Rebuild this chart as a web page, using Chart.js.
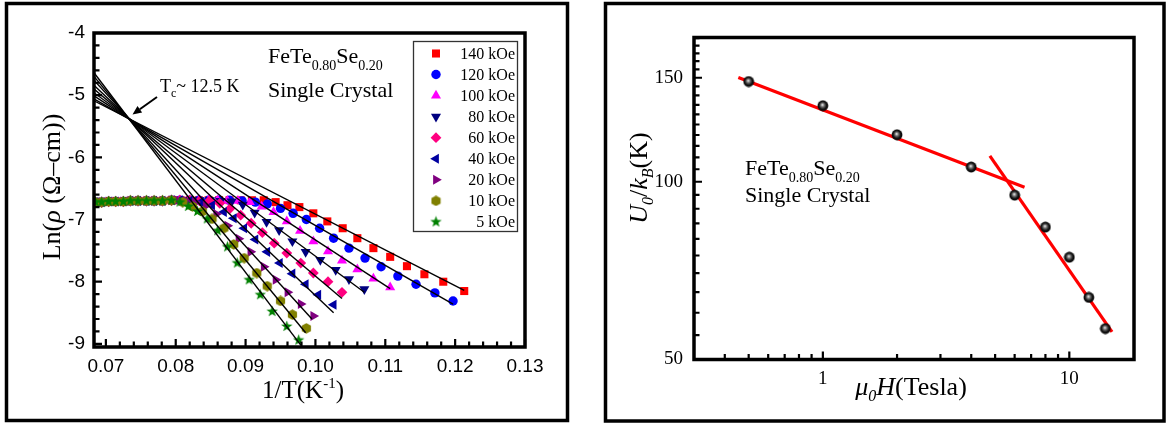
<!DOCTYPE html>
<html>
<head>
<meta charset="utf-8">
<title>FeTe0.80Se0.20 single crystal</title>
<script src="https://cdn.jsdelivr.net/npm/chart.js@4.4.1/dist/chart.umd.min.js"></script>
<style>
  html, body { margin: 0; padding: 0; background: #fff; }
  body { width: 1171px; height: 428px; position: relative; overflow: hidden; }
  canvas { position: absolute; top: 0; }
  #arrhenius { left: 0; }
  #barrier { left: 585px; }
</style>
</head>
<body>
<canvas id="arrhenius" width="575" height="428"></canvas>
<canvas id="barrier" width="586" height="428"></canvas>
<script>
// ---- Arrhenius plot: Ln(rho) vs 1/T for each applied field ----
const fieldLabels = ['140 kOe', '120 kOe', '100 kOe', '80 kOe', '60 kOe', '40 kOe', '20 kOe', '10 kOe', '5 kOe'];

// normal-state plateau, common to all fields
const plateauInvT = [0.0685, 0.0694, 0.0704, 0.0714, 0.0725, 0.0735, 0.0746, 0.0758, 0.0769, 0.0781, 0.0794];
const plateauLnRho = [-6.72, -6.72, -6.71, -6.71, -6.71, -6.70, -6.70, -6.70, -6.70, -6.70, -6.69];

const invT140 = [0.0806, 0.0820, 0.0833, 0.0847, 0.0862, 0.0877, 0.0893, 0.0909, 0.0926, 0.0943, 0.0960, 0.0977, 0.0997, 0.1017, 0.1039, 0.1060, 0.1083, 0.1107, 0.1131, 0.1156, 0.1183, 0.1213];
const lnRho140 = [-6.69, -6.69, -6.69, -6.69, -6.69, -6.69, -6.69, -6.69, -6.69, -6.72, -6.77, -6.80, -6.90, -7.03, -7.14, -7.30, -7.46, -7.60, -7.75, -7.88, -8.00, -8.15];

const invT120 = [0.0806, 0.0820, 0.0833, 0.0847, 0.0862, 0.0877, 0.0895, 0.0914, 0.0931, 0.0950, 0.0968, 0.0987, 0.1006, 0.1026, 0.1048, 0.1071, 0.1094, 0.1118, 0.1144, 0.1171, 0.1197];
const lnRho120 = [-6.69, -6.69, -6.69, -6.69, -6.69, -6.69, -6.70, -6.72, -6.75, -6.82, -6.90, -7.00, -7.14, -7.30, -7.46, -7.62, -7.76, -7.91, -8.04, -8.18, -8.31];

const invT100 = [0.0806, 0.0820, 0.0833, 0.0847, 0.0860, 0.0874, 0.0889, 0.0906, 0.0923, 0.0940, 0.0959, 0.0978, 0.0997, 0.1018, 0.1038, 0.1060, 0.1083, 0.1107];
const lnRho100 = [-6.69, -6.69, -6.69, -6.69, -6.69, -6.70, -6.70, -6.72, -6.79, -6.88, -7.03, -7.18, -7.35, -7.51, -7.66, -7.80, -7.95, -8.09];

const invT80 = [0.0806, 0.0820, 0.0834, 0.0849, 0.0864, 0.0880, 0.0896, 0.0913, 0.0930, 0.0948, 0.0967, 0.0986, 0.1007, 0.1029, 0.1048, 0.1070];
const lnRho80 = [-6.69, -6.69, -6.69, -6.69, -6.70, -6.71, -6.76, -6.89, -7.04, -7.17, -7.35, -7.52, -7.65, -7.81, -7.96, -8.12];

const invT60 = [0.0806, 0.0820, 0.0834, 0.0848, 0.0863, 0.0878, 0.0893, 0.0908, 0.0924, 0.0941, 0.0959, 0.0979, 0.0997, 0.1018, 0.1038];
const lnRho60 = [-6.69, -6.69, -6.70, -6.70, -6.74, -6.82, -6.93, -7.06, -7.21, -7.38, -7.54, -7.70, -7.86, -8.00, -8.17];

const invT40 = [0.0806, 0.0820, 0.0836, 0.0852, 0.0869, 0.0883, 0.0898, 0.0914, 0.0931, 0.0949, 0.0967, 0.0986, 0.1004, 0.1026];
const lnRho40 = [-6.69, -6.70, -6.72, -6.77, -6.88, -6.98, -7.14, -7.32, -7.52, -7.70, -7.87, -8.04, -8.21, -8.37];

const invT20 = [0.0802, 0.0815, 0.0828, 0.0843, 0.0858, 0.0874, 0.0890, 0.0907, 0.0926, 0.0943, 0.0960, 0.0979, 0.0997];
const lnRho20 = [-6.69, -6.70, -6.72, -6.78, -6.91, -7.10, -7.31, -7.52, -7.76, -7.97, -8.17, -8.36, -8.55];

const invT10 = [0.0810, 0.0824, 0.0838, 0.0852, 0.0869, 0.0883, 0.0898, 0.0916, 0.0931, 0.0950, 0.0967, 0.0987];
const lnRho10 = [-6.72, -6.79, -6.87, -6.99, -7.14, -7.40, -7.62, -7.86, -8.07, -8.31, -8.53, -8.75];

const invT5 = [0.0806, 0.0818, 0.0831, 0.0845, 0.0860, 0.0874, 0.0888, 0.0905, 0.0921, 0.0938, 0.0959, 0.0976];
const lnRho5 = [-6.72, -6.79, -6.87, -6.99, -7.18, -7.44, -7.70, -7.97, -8.21, -8.48, -8.72, -8.94];

// straight-line fits, from the left axis to the last point of each field
const fitFromInvT = 0.0683;
const fitFromLnRho = [-5.09, -5.06, -5.01, -4.96, -4.90, -4.84, -4.76, -4.70, -4.64];
const fitToInvT = [0.1213, 0.1197, 0.1107, 0.1070, 0.1038, 0.1026, 0.0995, 0.0986, 0.0979];
const fitToLnRho = [-8.14, -8.36, -8.11, -8.17, -8.27, -8.50, -8.60, -8.82, -9.02];

const xTicksLeft = [0.07, 0.08, 0.09, 0.10, 0.11, 0.12, 0.13];
const yTicksLeft = [-9, -8, -7, -6, -5, -4];

// ---- activation energy U0/kB vs field ----
const fieldTesla = [0.5, 1, 2, 4, 6, 8, 10, 12, 14];
const u0K = [147.8, 134.5, 120.1, 105.9, 94.9, 83.8, 74.5, 63.7, 56.4];
const lowFitTesla = [0.454, 6.58];
const lowFitU0 = [150.1, 97.9];
const highFitTesla = [4.76, 14.9];
const highFitU0 = [110.6, 55.7];

const xTicksRight = [1, 10];
const xMinorRight = [0.4, 0.5, 0.6, 0.7, 0.8, 0.9, 2, 3, 4, 5, 6, 7, 8, 9];
const yTicksRight = [50, 100, 150];
const yMinorRight = [55, 60, 65, 70, 75, 80, 85, 90, 95, 105, 110, 115, 120, 125, 130, 135, 140, 145, 155, 160, 165, 170, 175];

const SERIF = '"Liberation Serif", "Times New Roman", serif';
const SANS = '"Liberation Sans", Arial, sans-serif';

function makeSprite(size, paint) {
    const c = document.createElement('canvas');
    c.width = c.height = size;
    paint(c.getContext('2d'), size / 2);
    return c;
}

const hexagon = makeSprite(11, (g, m) => {
    g.fillStyle = '#808000';
    g.beginPath();
    for (let k = 0; k < 6; k++) {
        const a = Math.PI / 6 + k * Math.PI / 3;
        g.lineTo(m + 5.3 * Math.cos(a), m + 5.3 * Math.sin(a));
    }
    g.closePath();
    g.fill();
});

const star = makeSprite(13, (g, m) => {
    g.fillStyle = '#008000';
    g.beginPath();
    for (let k = 0; k < 10; k++) {
        const r = k % 2 ? 2.4 : 6;
        const a = -Math.PI / 2 + k * Math.PI / 5;
        g.lineTo(m + r * Math.cos(a), m + r * Math.sin(a));
    }
    g.closePath();
    g.fill();
});

const sphere = makeSprite(12, (g, m) => {
    const grad = g.createRadialGradient(m - 0.5, m - 1, 0.3, m, m, 5.5);
    grad.addColorStop(0, '#e6e6e6');
    grad.addColorStop(0.3, '#707070');
    grad.addColorStop(0.65, '#151515');
    grad.addColorStop(1, '#000');
    g.fillStyle = grad;
    g.beginPath();
    g.arc(m, m, 5.4, 0, 2 * Math.PI);
    g.fill();
});

const markers = [
    { style: 'rect', rotation: 0, radius: 5.7, color: '#ff0000' },
    { style: 'circle', rotation: 0, radius: 4.7, color: '#0000ff' },
    { style: 'triangle', rotation: 0, radius: 5.8, color: '#ff00ff' },
    { style: 'triangle', rotation: 180, radius: 5.8, color: '#000080' },
    { style: 'rectRot', rotation: 0, radius: 5.4, color: '#ff0080' },
    { style: 'triangle', rotation: 270, radius: 5.8, color: '#0000a0' },
    { style: 'triangle', rotation: 90, radius: 5.8, color: '#800080' },
    { style: hexagon, rotation: 0, radius: 5.3, color: '#808000' },
    { style: star, rotation: 0, radius: 6, color: '#008000' }
];

const lowTSeries = [
    [invT140, lnRho140], [invT120, lnRho120], [invT100, lnRho100],
    [invT80, lnRho80], [invT60, lnRho60], [invT40, lnRho40],
    [invT20, lnRho20], [invT10, lnRho10], [invT5, lnRho5]
];

// draw a run of text pieces (subscripts, italics) one after another
function richText(ctx, parts, x, y, align) {
    let w = 0;
    parts.forEach(p => { ctx.font = p.font; w += ctx.measureText(p.text).width; });
    let cx = align === 'center' ? x - w / 2 : x;
    parts.forEach(p => {
        ctx.font = p.font;
        ctx.fillText(p.text, cx, y + (p.dy || 0));
        cx += ctx.measureText(p.text).width;
    });
}

function subdivide(ticks, n) {
    const out = [];
    for (let i = 0; i < ticks.length - 1; i++) {
        const step = (ticks[i + 1] - ticks[i]) / n;
        for (let k = 1; k < n; k++) out.push(ticks[i] + k * step);
    }
    return out;
}

function innerTicks(ctx, a, xs, ys, xVals, yVals, len) {
    ctx.beginPath();
    xVals.forEach(v => {
        const px = xs.getPixelForValue(v);
        ctx.moveTo(px, a.bottom);
        ctx.lineTo(px, a.bottom - len);
    });
    yVals.forEach(v => {
        const py = ys.getPixelForValue(v);
        ctx.moveTo(a.left, py);
        ctx.lineTo(a.left + len, py);
    });
    ctx.stroke();
}

const titleFont = (size, italic) => (italic ? 'italic ' : '') + size + 'px ' + SERIF;

// ---- left panel ----
const leftSets = [];
fieldLabels.forEach((label, i) => {
    const xs = plateauInvT.concat(lowTSeries[i][0]);
    const ys = plateauLnRho.concat(lowTSeries[i][1]);
    const m = markers[i];
    leftSets.push({
        label: label,
        data: xs.map((x, k) => ({ x: x, y: ys[k] })),
        showLine: false,
        pointStyle: m.style,
        pointRotation: m.rotation,
        pointRadius: m.radius,
        pointBackgroundColor: m.color,
        pointBorderColor: m.color,
        pointBorderWidth: 0,
        order: 10 - i
    });
});
fitFromLnRho.forEach((y0, i) => {
    leftSets.push({
        data: [{ x: fitFromInvT, y: y0 }, { x: fitToInvT[i], y: fitToLnRho[i] }],
        showLine: true,
        borderColor: '#000',
        borderWidth: 1.4,
        pointRadius: 0,
        order: 0
    });
});

const leftDecor = {
    id: 'leftDecor',
    afterDraw(chart) {
        const { ctx, chartArea: a, scales: { x, y } } = chart;
        ctx.save();
        ctx.strokeStyle = '#000';
        ctx.fillStyle = '#000';

        // panel border
        ctx.lineWidth = 3.5;
        ctx.strokeRect(6.5, 3.5, 561, 417);

        // ticks pointing into the plot
        ctx.lineWidth = 2.2;
        innerTicks(ctx, a, x, y, xTicksLeft, yTicksLeft, 8);
        innerTicks(ctx, a, x, y, subdivide(xTicksLeft, 5), subdivide(yTicksLeft, 5), 5.5);

        // plot box
        ctx.lineWidth = 3.5;
        ctx.strokeRect(a.left, a.top, a.right - a.left, a.bottom - a.top);

        // legend box
        ctx.lineWidth = 1.3;
        ctx.strokeStyle = '#333';
        ctx.strokeRect(413.5, 41.5, 104, 190);
        ctx.textAlign = 'right';
        ctx.textBaseline = 'alphabetic';
        ctx.font = '16px ' + SERIF;
        fieldLabels.forEach((label, i) => {
            const m = markers[i];
            const cy = 53.5 + i * 21.05;
            ctx.fillStyle = m.color;
            ctx.strokeStyle = m.color;
            if (Chart.helpers && Chart.helpers.drawPoint) {
                Chart.helpers.drawPoint(ctx, { pointStyle: m.style, rotation: m.rotation, radius: m.radius, borderWidth: 0 }, 436, cy);
            }
            ctx.fillStyle = '#000';
            ctx.fillText(label, 515, cy + 5.5);
        });

        // sample label
        ctx.textAlign = 'left';
        ctx.fillStyle = '#000';
        richText(ctx, [
            { text: 'FeTe', font: titleFont(22) },
            { text: '0.80', font: titleFont(14), dy: 7 },
            { text: 'Se', font: titleFont(22) },
            { text: '0.20', font: titleFont(14), dy: 7 }
        ], 268, 63);
        ctx.font = titleFont(22);
        ctx.fillText('Single Crystal', 268, 97);

        // Tc marker with arrow to the crossing point
        richText(ctx, [
            { text: 'T', font: titleFont(18) },
            { text: 'c', font: titleFont(12), dy: 5 },
            { text: '~ 12.5 K', font: titleFont(18) }
        ], 160, 92);
        const tip = [132.5, 114.5], tail = [157, 97];
        const dx = tip[0] - tail[0], dy = tip[1] - tail[1];
        const len = Math.hypot(dx, dy), ux = dx / len, uy = dy / len;
        const bx = tip[0] - 9 * ux, by = tip[1] - 9 * uy;
        ctx.lineWidth = 2;
        ctx.strokeStyle = '#000';
        ctx.beginPath();
        ctx.moveTo(tail[0], tail[1]);
        ctx.lineTo(bx, by);
        ctx.stroke();
        ctx.beginPath();
        ctx.moveTo(tip[0], tip[1]);
        ctx.lineTo(bx - 4 * uy, by + 4 * ux);
        ctx.lineTo(bx + 4 * uy, by - 4 * ux);
        ctx.closePath();
        ctx.fill();

        // axis titles
        richText(ctx, [
            { text: '1/T(K', font: titleFont(25) },
            { text: '-1', font: titleFont(15), dy: -10 },
            { text: ')', font: titleFont(25) }
        ], 303, 398, 'center');
        ctx.save();
        ctx.translate(60, 187);
        ctx.rotate(-Math.PI / 2);
        richText(ctx, [
            { text: 'Ln(', font: titleFont(26) },
            { text: 'ρ', font: titleFont(26, true) },
            { text: ' (Ω–cm))', font: titleFont(26) }
        ], 0, 0, 'center');
        ctx.restore();

        ctx.restore();
    }
};

new Chart(document.getElementById('arrhenius'), {
    type: 'scatter',
    data: { datasets: leftSets },
    options: {
        responsive: false,
        animation: false,
        devicePixelRatio: 1,
        events: [],
        layout: { padding: { left: 34, right: 50, top: 33, bottom: 31 } },
        plugins: { legend: { display: false }, tooltip: { enabled: false } },
        scales: {
            x: {
                type: 'linear',
                min: 0.0683,
                max: 0.13,
                afterBuildTicks: s => { s.ticks = xTicksLeft.map(value => ({ value })); },
                afterFit: s => { s.height = 50; },
                grid: { display: false, drawTicks: false },
                border: { display: false },
                ticks: {
                    autoSkip: false, maxRotation: 0, padding: 8, color: '#000',
                    font: { family: SANS, size: 19 },
                    callback: v => Number(v).toFixed(2)
                }
            },
            y: {
                type: 'linear',
                min: -9.05,
                max: -4,
                afterBuildTicks: s => { s.ticks = yTicksLeft.map(value => ({ value })); },
                afterFit: s => { s.width = 60; },
                grid: { display: false, drawTicks: false },
                border: { display: false },
                ticks: {
                    autoSkip: false, padding: 9, color: '#000',
                    font: { family: SANS, size: 19 },
                    callback: v => String(v)
                }
            }
        }
    },
    plugins: [leftDecor]
});

// ---- right panel ----
const rightDecor = {
    id: 'rightDecor',
    afterDraw(chart) {
        const { ctx, chartArea: a, scales: { x, y } } = chart;
        ctx.save();
        ctx.strokeStyle = '#000';
        ctx.fillStyle = '#000';

        ctx.lineWidth = 3.5;
        ctx.strokeRect(20.5, 3.5, 558.5, 417.5);

        ctx.lineWidth = 2.2;
        innerTicks(ctx, a, x, y, xTicksRight, yTicksRight, 8);
        innerTicks(ctx, a, x, y, xMinorRight, yMinorRight, 5.5);

        ctx.lineWidth = 3.5;
        ctx.strokeRect(a.left, a.top, a.right - a.left, a.bottom - a.top);

        ctx.textAlign = 'left';
        ctx.textBaseline = 'alphabetic';
        richText(ctx, [
            { text: 'FeTe', font: titleFont(22) },
            { text: '0.80', font: titleFont(14), dy: 7 },
            { text: 'Se', font: titleFont(22) },
            { text: '0.20', font: titleFont(14), dy: 7 }
        ], 160, 175);
        ctx.font = titleFont(22);
        ctx.fillText('Single Crystal', 160, 202);

        richText(ctx, [
            { text: 'μ', font: titleFont(26, true) },
            { text: '0', font: titleFont(16, true), dy: 6 },
            { text: 'H', font: titleFont(26, true) },
            { text: '(Tesla)', font: titleFont(26) }
        ], 326, 395, 'center');

        ctx.save();
        ctx.translate(62, 178);
        ctx.rotate(-Math.PI / 2);
        richText(ctx, [
            { text: 'U', font: titleFont(26, true) },
            { text: '0', font: titleFont(16, true), dy: 6 },
            { text: '/', font: titleFont(26) },
            { text: 'k', font: titleFont(26, true) },
            { text: 'B', font: titleFont(16, true), dy: 6 },
            { text: '(K)', font: titleFont(26) }
        ], 0, 0, 'center');
        ctx.restore();

        ctx.restore();
    }
};

new Chart(document.getElementById('barrier'), {
    type: 'scatter',
    data: {
        datasets: [
            {
                data: fieldTesla.map((x, i) => ({ x: x, y: u0K[i] })),
                showLine: false,
                pointStyle: sphere,
                pointRadius: 5.5,
                order: 0
            },
            {
                data: lowFitTesla.map((x, i) => ({ x: x, y: lowFitU0[i] })),
                showLine: true, borderColor: '#ff0000', borderWidth: 3.2, pointRadius: 0, order: 1
            },
            {
                data: highFitTesla.map((x, i) => ({ x: x, y: highFitU0[i] })),
                showLine: true, borderColor: '#ff0000', borderWidth: 3.2, pointRadius: 0, order: 1
            }
        ]
    },
    options: {
        responsive: false,
        animation: false,
        devicePixelRatio: 1,
        events: [],
        layout: { padding: { left: 49, right: 37, top: 37.5, bottom: 28.5 } },
        plugins: { legend: { display: false }, tooltip: { enabled: false } },
        scales: {
            x: {
                type: 'logarithmic',
                min: 0.305,
                max: 18.3,
                afterBuildTicks: s => { s.ticks = xTicksRight.map(value => ({ value })); },
                afterFit: s => { s.height = 40; },
                grid: { display: false, drawTicks: false },
                border: { display: false },
                ticks: {
                    autoSkip: false, maxRotation: 0, padding: 8, color: '#000',
                    font: { family: SERIF, size: 19 },
                    callback: v => String(v)
                }
            },
            y: {
                type: 'logarithmic',
                min: 50,
                max: 175.5,
                afterBuildTicks: s => { s.ticks = yTicksRight.map(value => ({ value })); },
                afterFit: s => { s.width = 60; },
                grid: { display: false, drawTicks: false },
                border: { display: false },
                ticks: {
                    autoSkip: false, padding: 11, color: '#000',
                    font: { family: SERIF, size: 19 },
                    callback: v => String(v)
                }
            }
        }
    },
    plugins: [rightDecor]
});
</script>
</body>
</html>
